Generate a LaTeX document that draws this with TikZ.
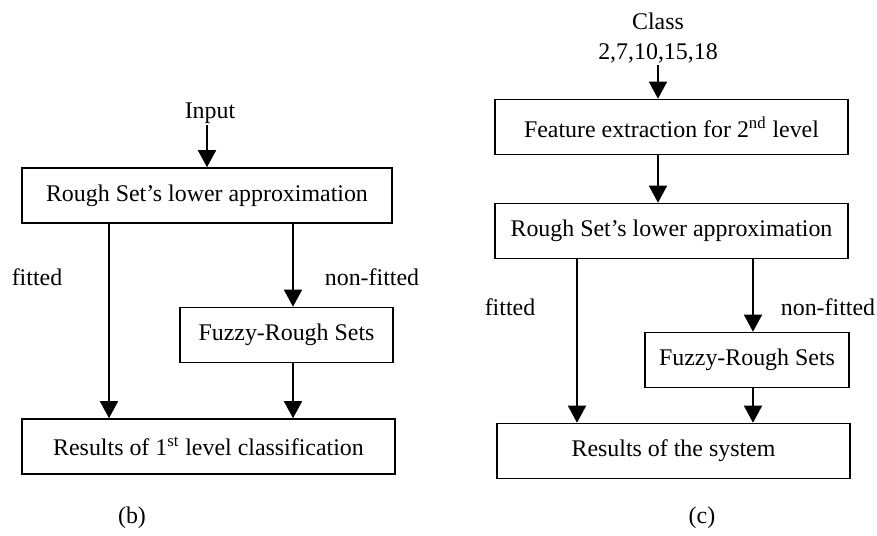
\documentclass[tikz,border=0pt]{standalone}
\usepackage{fontspec}
\setmainfont{Liberation Serif}
\usetikzlibrary{arrows.meta}

\tikzset{
  blk/.style={draw, line width=0.9pt, rectangle, inner sep=0pt, minimum height=1.1cm},
  flow/.style={line width=0.9pt, -{Triangle[length=0.34cm,width=0.36cm]}},
  lbl/.style={inner sep=1pt},
}

\begin{document}
\begin{tikzpicture}[x=0.02cm, y=-0.02cm, font=\fontsize{13.6}{17}\selectfont]
  \useasboundingbox (0,0) rectangle (877,536);
  % (b) first level
  \node[lbl] (in1) at (210,113) {Input};
  \node[blk, minimum width=7.4cm] (rs1) at (207,195.5) {Rough Set's lower approximation};
  \node[blk, minimum width=4.26cm] (fz1) at (286.5,335) {Fuzzy-Rough Sets};
  \node[blk, minimum width=7.46cm] (res1) at (208.5,446.5) {Results of 1\textsuperscript{st} level classification};
  \node[lbl] (fit1) at (37,277) {fitted};
  \node[lbl] (nfit1) at (372,277) {non-fitted};
  \node[lbl] (capb) at (132,518) {(b)};
  \coordinate (bl) at (109,0);
  \coordinate (br) at (293,0);
  \draw[flow] (in1.south -| rs1.north) -- (rs1.north);
  \draw[flow] (rs1.south -| bl) -- (res1.north -| bl);
  \draw[flow] (rs1.south -| br) -- (fz1.north -| br);
  \draw[flow] (fz1.south -| br) -- (res1.north -| br);
  % (c) second level
  \node[lbl, align=center] (cls) at (658,38) {Class\\2,7,10,15,18};
  \node[blk, minimum width=7.06cm] (fe) at (671.5,127) {Feature extraction for 2\textsuperscript{nd} level};
  \node[blk, minimum width=7.06cm] (rs2) at (671.5,231) {Rough Set's lower approximation};
  \node[blk, minimum width=4.08cm] (fz2) at (747,360) {Fuzzy-Rough Sets};
  \node[blk, minimum width=7.06cm] (res2) at (673.5,451) {Results of the system};
  \node[lbl] (fit2) at (510,307) {fitted};
  \node[lbl] (nfit2) at (828,307) {non-fitted};
  \node[lbl] (capc) at (702,518) {(c)};
  \coordinate (cx) at (658,0);
  \coordinate (cl) at (577,0);
  \coordinate (cr) at (753,0);
  \draw[flow] (cls.south -| cx) -- (fe.north -| cx);
  \draw[flow] (fe.south -| cx) -- (rs2.north -| cx);
  \draw[flow] (rs2.south -| cl) -- (res2.north -| cl);
  \draw[flow] (rs2.south -| cr) -- (fz2.north -| cr);
  \draw[flow] (fz2.south -| cr) -- (res2.north -| cr);
\end{tikzpicture}
\end{document}
